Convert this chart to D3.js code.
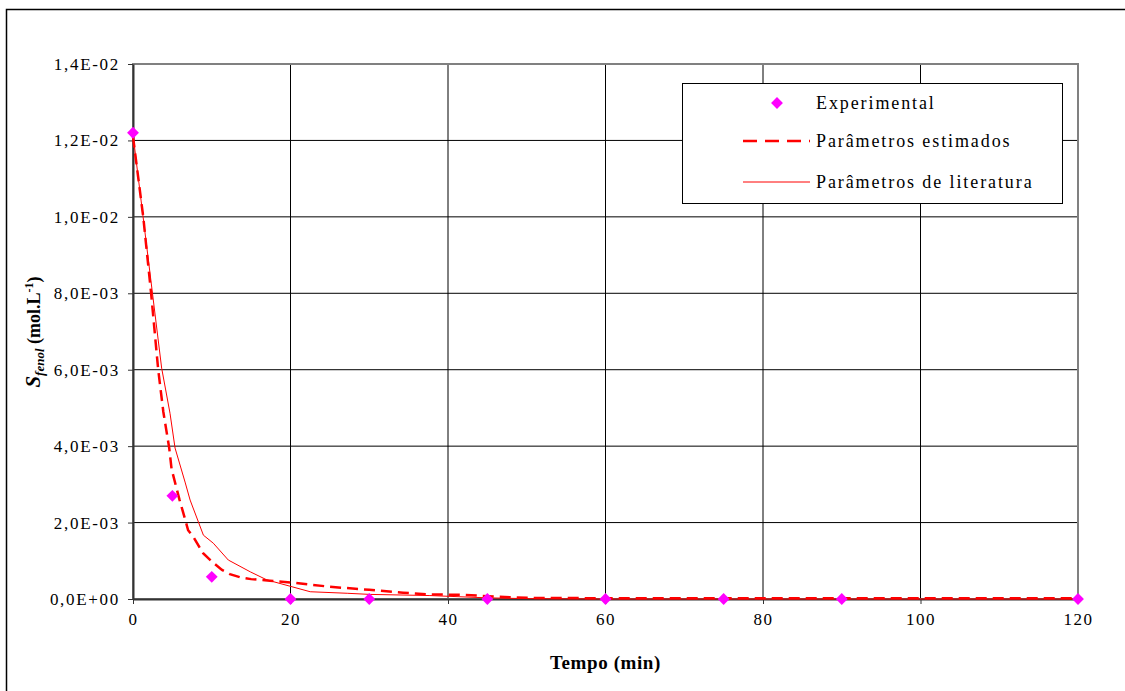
<!DOCTYPE html>
<html>
<head>
<meta charset="utf-8">
<script src="https://cdn.jsdelivr.net/npm/d3@7"></script>
<style>
  body { margin: 0; background: #fff; }
  svg text { font-family: 'Liberation Serif', 'Times New Roman', 'DejaVu Serif', serif; }
</style>
</head>
<body>
<div id="chart"></div>
<script>
const WIDTH = 1125;
const HEIGHT = 691;
const MARGIN = { TOP: 64, BOTTOM: 92, LEFT: 133, RIGHT: 47 };

const width = WIDTH - MARGIN.LEFT - MARGIN.RIGHT;
const height = HEIGHT - MARGIN.TOP - MARGIN.BOTTOM;

// experimental points
const expTime = [0, 5, 10, 20, 30, 45, 60, 75, 90, 120];
const expS = [1.22e-2, 2.7e-3, 5.8e-4, 0, 0, 0, 0, 0, 0, 0];

// model, estimated parameters (dashed)
const estTime = [0, 1.3, 2.3, 3.2, 3.85, 4.6, 4.9, 5.9, 6.6, 7.0, 7.65, 8.9, 10, 11.3, 12.3, 13.6, 15,
  17.4, 20.2, 25, 30, 34.3, 37.7, 42, 46, 50, 60, 75, 90, 105, 120];
const estS = [1.21e-2, 1.0e-2, 8.0e-3, 6.0e-3, 4.9e-3, 3.95e-3, 3.4e-3, 2.6e-3, 2.1e-3, 1.8e-3, 1.63e-3,
  1.2e-3, 9.8e-4, 7.6e-4, 6.5e-4, 5.7e-4, 5.2e-4, 4.8e-4, 4.3e-4, 3.2e-4, 2.4e-4, 1.65e-4, 1.2e-4,
  1.1e-4, 6e-5, 3e-5, 2e-5, 2e-5, 2e-5, 2e-5, 2e-5];

// model, literature parameters (solid)
const litTime = [0, 3.64, 4.7, 5.34, 6.61, 7.25, 8.94, 10.2, 12.1, 14.9, 17, 20.2, 22.5, 27.2, 30.1,
  37.7, 45, 50, 60, 120];
const litS = [1.215e-2, 6.04e-3, 4.86e-3, 3.95e-3, 3.06e-3, 2.59e-3, 1.67e-3, 1.46e-3, 1.02e-3, 7.1e-4,
  5.0e-4, 3.2e-4, 1.9e-4, 1.5e-4, 1.2e-4, 9e-5, 3e-5, 1e-5, 0, 0];

const xTicks = [0, 20, 40, 60, 80, 100, 120];
const yTicks = [0, 2e-3, 4e-3, 6e-3, 8e-3, 1e-2, 1.2e-2, 1.4e-2];
const legendLabels = ['Experimental', 'Parâmetros estimados', 'Parâmetros de literatura'];

const svg = d3.select('#chart')
  .append('svg')
    .attr('width', WIDTH)
    .attr('height', HEIGHT);

// outer chart frame (runs off the right and bottom edges)
svg.append('rect')
  .attr('x', 6.5).attr('y', 9.5)
  .attr('width', 1130).attr('height', 700)
  .attr('fill', 'none').attr('stroke', '#000').attr('stroke-width', 1.5);

const container = svg.append('g')
  .attr('transform', `translate(${MARGIN.LEFT}, ${MARGIN.TOP})`);

const x = d3.scaleLinear().domain([0, 120]).range([0, width]);
const y = d3.scaleLinear().domain([0, 1.4e-2]).range([height, 0]);

const fmtY = v => {
  if (v === 0) return '0,0E+00';
  const e = Math.floor(Math.log10(v) + 1e-9);
  const m = v / Math.pow(10, e);
  const es = (e < 0 ? '-' : '+') + String(Math.abs(e)).padStart(2, '0');
  return m.toFixed(1).replace('.', ',') + 'E' + es;
};

// grid
container.selectAll('.hgrid')
  .data(yTicks)
  .enter().append('line')
    .attr('class', 'hgrid')
    .attr('x1', 0).attr('x2', width)
    .attr('y1', d => y(d)).attr('y2', d => y(d))
    .attr('stroke', '#000').attr('stroke-width', 1);

container.selectAll('.vgrid')
  .data(xTicks)
  .enter().append('line')
    .attr('class', 'vgrid')
    .attr('y1', 0).attr('y2', height)
    .attr('x1', d => x(d)).attr('x2', d => x(d))
    .attr('stroke', '#000').attr('stroke-width', 1);

// plot area border
container.append('rect')
  .attr('x', 0).attr('y', 0)
  .attr('width', width).attr('height', height)
  .attr('fill', 'none').attr('stroke', '#808080').attr('stroke-width', 2);

// axes
const yAxis = container.append('g')
  .call(d3.axisLeft(y).tickValues(yTicks).tickFormat(fmtY).tickSize(5).tickSizeOuter(0));
const xAxis = container.append('g')
  .attr('transform', `translate(0, ${height})`)
  .call(d3.axisBottom(x).tickValues(xTicks).tickSize(5).tickSizeOuter(0));

[xAxis, yAxis].forEach(a => {
  a.attr('font-family', null);
  a.select('.domain').attr('stroke', '#333').attr('stroke-width', 2);
  a.selectAll('.tick line').attr('stroke', '#333');
  a.selectAll('.tick text')
    .attr('font-size', 17).attr('fill', '#000');
});
yAxis.selectAll('.tick text').attr('x', -13).attr('letter-spacing', 1.7);
xAxis.selectAll('.tick text').attr('y', 14).attr('letter-spacing', 1.5);

// curves
const line = d3.line().x(d => x(d[0])).y(d => y(d[1]));

container.append('path')
  .datum(litTime.map((t, i) => [t, litS[i]]))
  .attr('d', line)
  .attr('fill', 'none').attr('stroke', '#ff0000').attr('stroke-width', 1);

container.append('path')
  .datum(estTime.map((t, i) => [t, estS[i]]))
  .attr('d', line)
  .attr('fill', 'none').attr('stroke', '#ff0000').attr('stroke-width', 2.5)
  .attr('stroke-dasharray', '11,6');

const diamond = d3.symbol().type(d3.symbolSquare).size(70);

container.selectAll('.node')
  .data(expTime.map((t, i) => [t, expS[i]]))
  .enter().append('path')
    .attr('class', 'node')
    .attr('d', diamond)
    .attr('transform', d => `translate(${x(d[0])}, ${y(d[1])}) rotate(45)`)
    .attr('fill', '#ff00ff');

// axis titles
svg.append('text')
  .attr('x', MARGIN.LEFT + width / 2).attr('y', 669)
  .attr('text-anchor', 'middle')
  .attr('font-size', 19).attr('font-weight', 'bold').attr('letter-spacing', 0.6)
  .text('Tempo (min)');

const yTitle = svg.append('text')
  .attr('transform', 'translate(40, 332) rotate(-90)')
  .attr('text-anchor', 'middle')
  .attr('font-size', 18).attr('font-weight', 'bold');
yTitle.append('tspan').attr('font-style', 'italic').attr('font-size', 21).text('S');
yTitle.append('tspan').attr('font-style', 'italic').attr('font-size', 13).attr('dy', 4).text('fenol');
yTitle.append('tspan').attr('dy', -4).text(' (mol.L');
yTitle.append('tspan').attr('font-size', 12).attr('dy', -7).text('-1');
yTitle.append('tspan').attr('dy', 7).text(')');

// legend
const legend = svg.append('g').attr('transform', 'translate(682, 83)');
legend.append('rect')
  .attr('x', 0.5).attr('y', 0.5)
  .attr('width', 380).attr('height', 120)
  .attr('fill', '#fff').attr('stroke', '#000').attr('stroke-width', 1);

const rows = [20, 58, 99];
legend.append('path')
  .attr('d', diamond)
  .attr('transform', `translate(95, ${rows[0]}) rotate(45)`)
  .attr('fill', '#ff00ff');
legend.append('line')
  .attr('x1', 61).attr('x2', 128).attr('y1', rows[1]).attr('y2', rows[1])
  .attr('stroke', '#ff0000').attr('stroke-width', 2.5).attr('stroke-dasharray', '14,8');
legend.append('line')
  .attr('x1', 61).attr('x2', 128).attr('y1', rows[2]).attr('y2', rows[2])
  .attr('stroke', '#ff0000').attr('stroke-width', 1);

legend.selectAll('.label')
  .data(legendLabels)
  .enter().append('text')
    .attr('class', 'label')
    .attr('x', 134)
    .attr('y', (d, i) => rows[i] + 6)
    .attr('font-size', 18)
    .attr('letter-spacing', 1.9)
    .text(d => d);
</script>
</body>
</html>
